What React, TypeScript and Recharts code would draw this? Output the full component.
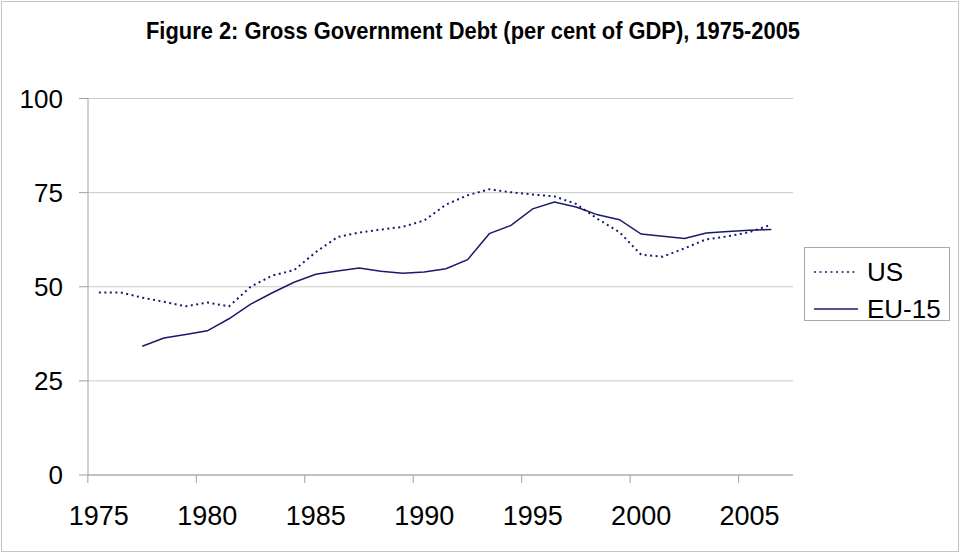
import React from 'react';
import { LineChart, Line, XAxis, YAxis, CartesianGrid, Legend } from 'recharts';

const years = [
  1975, 1976, 1977, 1978, 1979, 1980, 1981, 1982, 1983, 1984, 1985, 1986, 1987, 1988, 1989, 1990,
  1991, 1992, 1993, 1994, 1995, 1996, 1997, 1998, 1999, 2000, 2001, 2002, 2003, 2004, 2005, 2006,
];

const usDebt = [
  48.5, 48.5, 47.1, 46.0, 44.8, 45.8, 44.8, 50.0, 53.0, 54.4, 59.2, 63.2, 64.4, 65.2, 65.9, 67.6,
  71.8, 74.3, 75.9, 75.1, 74.5, 74.0, 72.0, 68.0, 64.5, 58.5, 58.0, 60.2, 62.6, 63.4, 64.5, 66.5,
];

const eu15Debt: (number | null)[] = [
  null, null, 34.2, 36.4, 37.3, 38.3, 41.5, 45.4, 48.4, 51.2, 53.3, 54.2, 55.0, 54.1, 53.6, 53.9,
  54.8, 57.2, 64.1, 66.3, 70.7, 72.5, 71.2, 69.1, 67.8, 64.0, 63.4, 62.8, 64.3, 64.7, 65.0, 65.2,
];

const xTicks = [1975, 1980, 1985, 1990, 1995, 2000, 2005];
const yTicks = [0, 25, 50, 75, 100];
const seriesOrder = ['US', 'EU-15'];
const titleText = 'Figure 2: Gross Government Debt (per cent of GDP), 1975-2005';

const data = years.map((year, i) => ({ year, US: usDebt[i], EU15: eu15Debt[i] }));

const CHART_W = 960;
const CHART_H = 553;
const MARGIN = { top: 98.5, right: 167, bottom: 0, left: 0 };
const Y_AXIS_W = 88;
const X_AXIS_H = 78;
const PLOT_W = CHART_W - MARGIN.right - MARGIN.left - Y_AXIS_W;

const LINE_COLOR = '#1a1a6c';
const AXIS_COLOR = '#a0a0a0';
const GRID_COLOR = '#c8c8c8';
const FONT = '"Liberation Sans", Arial, sans-serif';

const XTick = (props: any) => {
  const { x, y, payload } = props;
  const half = PLOT_W / years.length / 2;
  return (
    <g>
      <line x1={x - half} x2={x - half} y1={y - 8} y2={y} stroke={AXIS_COLOR} />
      <text x={x} y={y + 42} textAnchor="middle" fontSize={27} fill="#000" fontFamily={FONT}>
        {payload.value}
      </text>
    </g>
  );
};

const LegendBox = (props: any) => {
  const items = [...(props.payload || [])].sort(
    (a: any, b: any) => seriesOrder.indexOf(a.value) - seriesOrder.indexOf(b.value)
  );
  return (
    <div
      style={{
        border: '1px solid #a8a8a8',
        width: 146,
        height: 74,
        boxSizing: 'border-box',
        background: '#fff',
        paddingTop: 5,
        fontFamily: FONT,
      }}
    >
      {items.map((entry: any) => (
        <div key={entry.value} style={{ display: 'flex', alignItems: 'center', height: 37 }}>
          <svg width={62} height={10} style={{ display: 'block' }}>
            <line
              x1={9}
              x2={53}
              y1={5}
              y2={5}
              stroke={entry.color}
              strokeWidth={entry.payload && entry.payload.strokeDasharray ? 1.6 : 1.5}
              strokeDasharray={entry.payload ? entry.payload.strokeDasharray : undefined}
            />
          </svg>
          <span style={{ fontSize: 26, color: '#000', lineHeight: '28px' }}>{entry.value}</span>
        </div>
      ))}
    </div>
  );
};

export default function App() {
  return (
    <div
      style={{
        position: 'absolute',
        left: 0,
        top: 0,
        width: CHART_W,
        height: CHART_H,
        background: '#fff',
      }}
    >
      <div
        style={{
          position: 'absolute',
          left: 1,
          top: 1,
          width: CHART_W - 4,
          height: CHART_H - 4,
          border: '1px solid #c4c4c4',
        }}
      />
      <svg
        width={CHART_W}
        height={60}
        style={{ position: 'absolute', left: 0, top: 0, display: 'block' }}
      >
        <text
          x={473}
          y={39}
          textAnchor="middle"
          fontFamily={FONT}
          fontWeight="bold"
          fontSize={24}
          textLength={654}
          lengthAdjust="spacingAndGlyphs"
          fill="#000"
        >
          {titleText}
        </text>
      </svg>
      <LineChart width={CHART_W} height={CHART_H} data={data} margin={MARGIN} style={{ position: 'absolute', left: 0, top: 0 }}>
        <CartesianGrid horizontal={true} vertical={false} stroke={GRID_COLOR} />
        <XAxis
          dataKey="year"
          type="number"
          domain={[1974.5, 2006.5]}
          ticks={xTicks}
          height={X_AXIS_H}
          tickSize={8}
          tickMargin={0}
          tickLine={false}
          axisLine={{ stroke: AXIS_COLOR }}
          tick={<XTick />}
          interval={0}
          allowDecimals={false}
        />
        <YAxis
          domain={[0, 100]}
          ticks={yTicks}
          width={Y_AXIS_W}
          tickSize={9}
          tickMargin={16}
          axisLine={{ stroke: AXIS_COLOR }}
          tickLine={{ stroke: AXIS_COLOR }}
          tick={{ fontSize: 26, fill: '#000', fontFamily: FONT }}
          interval={0}
        />
        <Legend
          layout="vertical"
          align="center"
          verticalAlign="middle"
          wrapperStyle={{ position: 'absolute', left: 804, top: 247, width: 146, height: 74 }}
          content={<LegendBox />}
        />
        <Line
          type="linear"
          dataKey="EU15"
          name="EU-15"
          stroke={LINE_COLOR}
          strokeWidth={1.5}
          dot={false}
          activeDot={false}
          connectNulls={false}
          isAnimationActive={false}
        />
        <Line
          type="linear"
          dataKey="US"
          name="US"
          stroke={LINE_COLOR}
          strokeWidth={2}
          strokeDasharray="2 3.5"
          dot={false}
          activeDot={false}
          isAnimationActive={false}
        />
      </LineChart>
    </div>
  );
}
